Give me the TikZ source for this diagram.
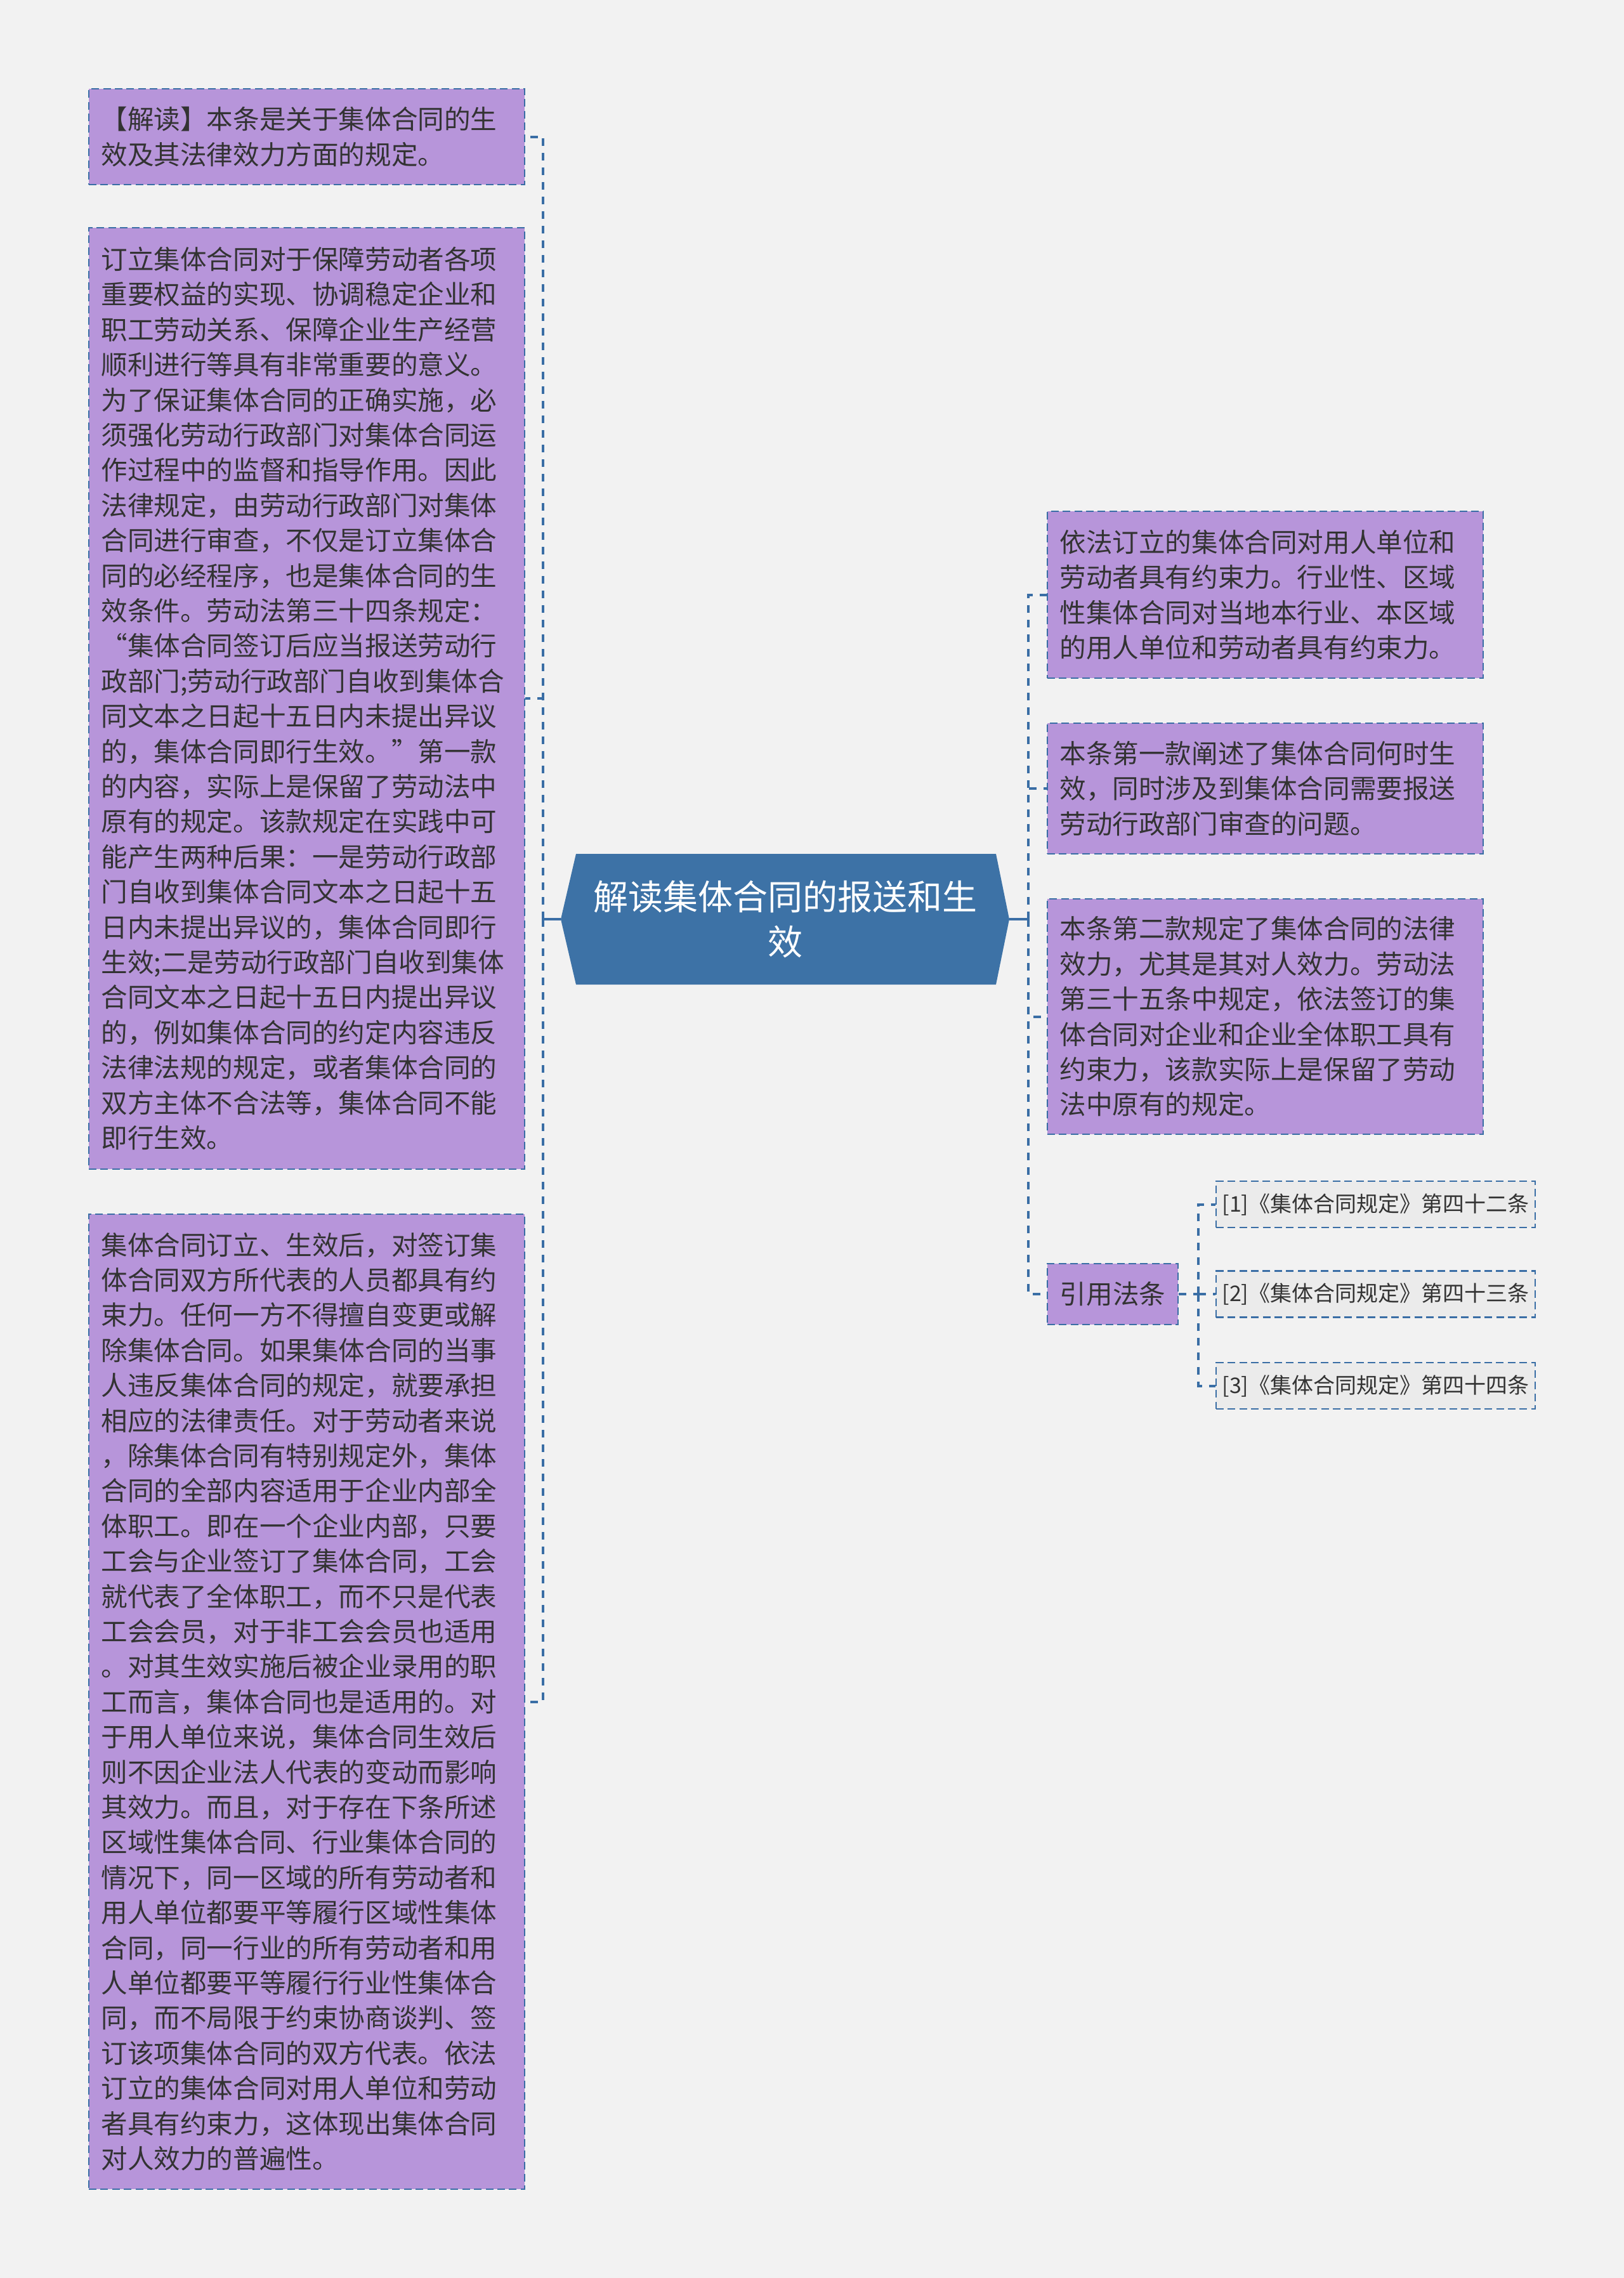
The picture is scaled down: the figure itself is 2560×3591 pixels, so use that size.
\documentclass[tikz,border=0pt]{standalone}
\usepackage{fontspec}
\newfontfamily\cjk{Noto Sans CJK SC}
\definecolor{bg}{HTML}{F2F2F2}
\definecolor{purp}{HTML}{B795DA}
\definecolor{lineblue}{HTML}{3A6EA5}
\definecolor{hexblue}{HTML}{3D72A6}
\definecolor{txt}{HTML}{333333}
\definecolor{refgray}{HTML}{EBEBEB}
\begin{document}
\begin{tikzpicture}[x=0.25pt,y=-0.25pt,
  boxline/.style={draw=lineblue, line width=0.6pt, dash pattern=on 3pt off 1.6pt},
  pbox/.style={boxline, fill=purp, text=txt,
    font=\cjk\fontsize{10.4pt}{13.85pt}\selectfont,
    align=left, text width=162pt, inner xsep=4.875pt, inner ysep=0pt,
    minimum width=171.75pt},
  lawbox/.style={boxline, fill=purp, text=txt,
    font=\cjk\fontsize{10.4pt}{13.85pt}\selectfont,
    align=center, inner sep=0pt, minimum width=51.5pt, minimum height=24pt},
  refbox/.style={boxline, fill=refgray, text=txt,
    font=\cjk\fontsize{8.5pt}{10.5pt}\selectfont,
    align=center, inner sep=0pt, minimum width=125.75pt, minimum height=18.25pt},
  conn/.style={draw=lineblue, line width=1pt, dash pattern=on 3pt off 2.75pt},
  stem/.style={draw=lineblue, line width=1pt}
]
\fill[bg] (0,0) rectangle (2560,3591);
\useasboundingbox (0,0) rectangle (2560,3591);

% central hexagon
\coordinate (cl) at (884,1449);
\coordinate (cr) at (1591,1449);
\fill[hexblue] (908,1346) -- (1570,1346) -- (cr) -- (1570,1552) -- (908,1552) -- (cl) -- cycle;
\node[font=\cjk\fontsize{13.75pt}{17.75pt}\selectfont, text=white, align=center] (root) at (1237.5,1449) {解读集体合同的报送和生\\效};

% left boxes
\node[pbox, minimum height=37.75pt] (b1) at (483.5,215.5) {【解读】本条是关于集体合同的生\\效及其法律效力方面的规定。};

\node[pbox, minimum height=371pt] (b2) at (483.5,1101) {订立集体合同对于保障劳动者各项\\
重要权益的实现、协调稳定企业和\\
职工劳动关系、保障企业生产经营\\
顺利进行等具有非常重要的意义。\\
为了保证集体合同的正确实施，必\\
须强化劳动行政部门对集体合同运\\
作过程中的监督和指导作用。因此\\
法律规定，由劳动行政部门对集体\\
合同进行审查，不仅是订立集体合\\
同的必经程序，也是集体合同的生\\
效条件。劳动法第三十四条规定：\\
“集体合同签订后应当报送劳动行\\
政部门;劳动行政部门自收到集体合\\
同文本之日起十五日内未提出异议\\
的，集体合同即行生效。”第一款\\
的内容，实际上是保留了劳动法中\\
原有的规定。该款规定在实践中可\\
能产生两种后果：一是劳动行政部\\
门自收到集体合同文本之日起十五\\
日内未提出异议的，集体合同即行\\
生效;二是劳动行政部门自收到集体\\
合同文本之日起十五日内提出异议\\
的，例如集体合同的约定内容违反\\
法律法规的规定，或者集体合同的\\
双方主体不合法等，集体合同不能\\
即行生效。};

\node[pbox, minimum height=384.25pt] (b3) at (483.5,2682.5) {集体合同订立、生效后，对签订集\\
体合同双方所代表的人员都具有约\\
束力。任何一方不得擅自变更或解\\
除集体合同。如果集体合同的当事\\
人违反集体合同的规定，就要承担\\
相应的法律责任。对于劳动者来说\\
，除集体合同有特别规定外，集体\\
合同的全部内容适用于企业内部全\\
体职工。即在一个企业内部，只要\\
工会与企业签订了集体合同，工会\\
就代表了全体职工，而不只是代表\\
工会会员，对于非工会会员也适用\\
。对其生效实施后被企业录用的职\\
工而言，集体合同也是适用的。对\\
于用人单位来说，集体合同生效后\\
则不因企业法人代表的变动而影响\\
其效力。而且，对于存在下条所述\\
区域性集体合同、行业集体合同的\\
情况下，同一区域的所有劳动者和\\
用人单位都要平等履行区域性集体\\
合同，同一行业的所有劳动者和用\\
人单位都要平等履行行业性集体合\\
同，而不局限于约束协商谈判、签\\
订该项集体合同的双方代表。依法\\
订立的集体合同对用人单位和劳动\\
者具有约束力，这体现出集体合同\\
对人效力的普遍性。};

% right boxes
\node[pbox, minimum height=65.75pt] (r1) at (1994.5,937.5) {依法订立的集体合同对用人单位和\\
劳动者具有约束力。行业性、区域\\
性集体合同对当地本行业、本区域\\
的用人单位和劳动者具有约束力。};

\node[pbox, minimum height=51.5pt] (r2) at (1994.5,1243) {本条第一款阐述了集体合同何时生\\
效，同时涉及到集体合同需要报送\\
劳动行政部门审查的问题。};

\node[pbox, minimum height=92.75pt] (r3) at (1994.5,1602.5) {本条第二款规定了集体合同的法律\\
效力，尤其是其对人效力。劳动法\\
第三十五条中规定，依法签订的集\\
体合同对企业和企业全体职工具有\\
约束力，该款实际上是保留了劳动\\
法中原有的规定。};

\node[lawbox] (r4) at (1754,2040) {引用法条};

\node[refbox] (f1) at (2168.5,1898.5) {[1]《集体合同规定》第四十二条};
\node[refbox] (f2) at (2168.5,2040) {[2]《集体合同规定》第四十三条};
\node[refbox] (f3) at (2168.5,2184.5) {[3]《集体合同规定》第四十四条};

% connectors left
\coordinate (jl) at (856,1449);
\draw[stem] (cl) -- (jl);
\draw[conn] (jl) |- (b1.east);
\draw[conn] (jl) |- (b2.east);
\draw[conn] (jl) |- (b3.east);

% connectors right
\coordinate (jr) at (1621,1449);
\draw[stem] (cr) -- (jr);
\draw[conn] (jr) |- (r1.west);
\draw[conn] (jr) |- (r2.west);
\draw[conn] (jr) |- (r3.west);
\draw[conn] (jr) |- (r4.west);

% connectors refs
\coordinate (jf) at (1889,2040);
\draw[conn] (r4.east) -- (jf);
\draw[conn] (jf) |- (f1.west);
\draw[conn] (jf) -- (f2.west);
\draw[conn] (jf) |- (f3.west);
\end{tikzpicture}
\end{document}
